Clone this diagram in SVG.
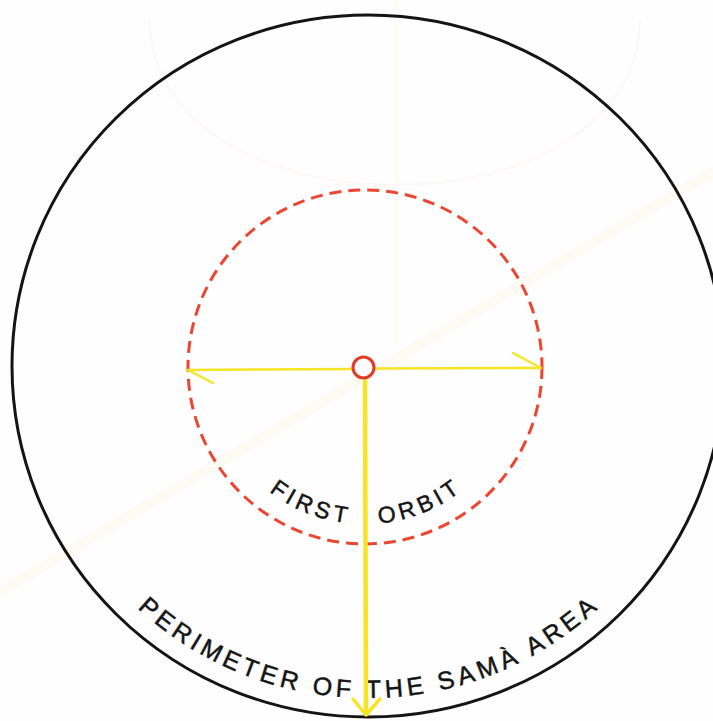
<svg xmlns="http://www.w3.org/2000/svg" width="713" height="721" viewBox="0 0 713 721">
  <defs>
    <style>
      .lbl { font-family: "Liberation Sans", "DejaVu Sans", sans-serif; fill: #151515; stroke: #151515; stroke-width: 0.5; }
      .yel { stroke: #f7e424; fill: none; stroke-linecap: round; stroke-linejoin: round; }
      .ghost { fill: none; stroke-linecap: round; }
    </style>
    <path id="orbitArc" d="M244.7,467.9 A157,157 0 0 0 485.3,467.9"/>
    <path id="perimArc" d="M109.8,579.4 A337,332 0 0 0 626.2,579.4"/>
  </defs>
  <rect x="0" y="0" width="713" height="721" fill="#fefefe"/>

  <g id="background" opacity="0.3">
    <line class="ghost" x1="0" y1="592" x2="713" y2="172" stroke="#fdf6dc" stroke-width="10"/>
    <line class="ghost" x1="397" y1="0" x2="397" y2="340" stroke="#fdf8e4" stroke-width="6"/>
    <path class="ghost" d="M150,20 C150,120 260,185 395,185 C530,185 640,120 640,20" stroke="#fbe9e4" stroke-width="2"/>
  </g>

  <g id="perimeter">
    <ellipse cx="368" cy="366" rx="356" ry="351" fill="none" stroke="#141414" stroke-width="3"/>
    <text class="lbl" font-size="25">
      <textPath href="#perimArc" startOffset="40" textLength="505" lengthAdjust="spacing">PERIMETER OF THE SAMÀ AREA</textPath>
    </text>
  </g>

  <g id="first-orbit">
    <circle cx="365" cy="367" r="177" fill="none" stroke="#ec4530" stroke-width="3" stroke-dasharray="12 7"/>
    <text class="lbl" font-size="23">
      <textPath href="#orbitArc" startOffset="34" textLength="84" lengthAdjust="spacing">FIRST</textPath>
    </text>
    <text class="lbl" font-size="23">
      <textPath href="#orbitArc" startOffset="151" textLength="88" lengthAdjust="spacing">ORBIT</textPath>
    </text>
  </g>

  <g id="connectors">
    <line class="yel" x1="188" y1="370" x2="352" y2="369" stroke-width="2.5"/>
    <line class="yel" x1="376" y1="368.5" x2="541" y2="368" stroke-width="2.5"/>
    <polyline class="yel" points="213,383 188,370" stroke-width="2.5"/>
    <polyline class="yel" points="513,353 541,368" stroke-width="2.5"/>
    <line class="yel" x1="365" y1="381" x2="366" y2="714" stroke-width="4.5"/>
    <polyline class="yel" points="353,699 366,715 380,699" stroke-width="3.5"/>
  </g>

  <g id="centre">
    <circle cx="363.5" cy="367.5" r="10.5" fill="#fefefe" stroke="#e33c26" stroke-width="3"/>
  </g>
</svg>
